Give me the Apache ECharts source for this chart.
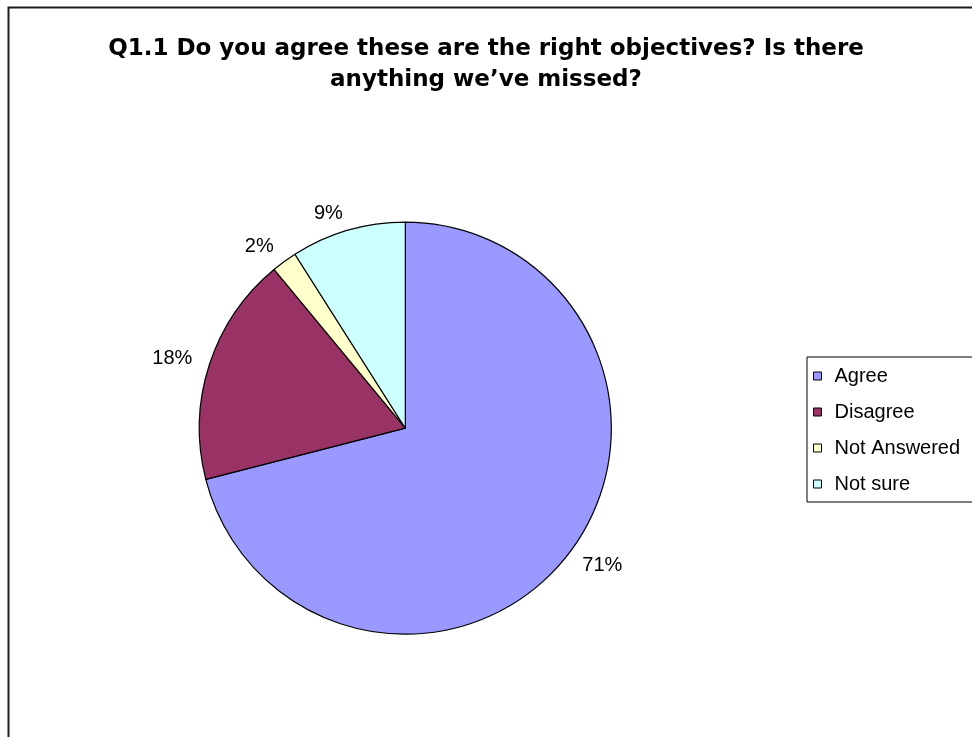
<!DOCTYPE html>
<html>
<head>
<meta charset="utf-8">
<title>Q1.1 Do you agree these are the right objectives?</title>
<script src="https://cdn.jsdelivr.net/npm/echarts@6/dist/echarts.min.js"></script>
<style>
  html, body { margin: 0; padding: 0; background: #ffffff; }
  #chart { width: 972px; height: 737px; }
</style>
</head>
<body>
<div id="chart"></div>
<script>
// Survey responses for question 1.1 (share of respondents, %)
const categories = ['Agree', 'Disagree', 'Not Answered', 'Not sure'];
const shares = [71, 18, 2, 9];
const sliceColors = ['#9999ff', '#993366', '#ffffcc', '#ccffff'];
const titleLines = [
  'Q1.1 Do you agree these are the right objectives? Is there',
  'anything we\u2019ve missed?'
];

const chart = echarts.init(document.getElementById('chart'), null, { renderer: 'canvas' });

const pieData = categories.map((name, i) => ({
  name: name,
  value: shares[i],
  itemStyle: { color: sliceColors[i] }
}));

chart.setOption({
  backgroundColor: '#ffffff',
  animation: false,
  title: {
    text: titleLines.join('\n'),
    left: 'center',
    top: 34,
    padding: [0, 0, 0, 16],
    textStyle: {
      fontFamily: 'DejaVu Sans',
      fontWeight: 'bold',
      fontSize: 23,
      lineHeight: 31,
      color: '#000000'
    }
  },
  legend: {
    orient: 'vertical',
    left: 807,
    top: 357,
    padding: [9, 40, 8, 6],
    borderColor: '#000000',
    borderWidth: 1,
    itemGap: 16,
    itemWidth: 8,
    itemHeight: 8,
    icon: 'rect',
    itemStyle: { borderColor: '#000000', borderWidth: 1 },
    textStyle: {
      fontFamily: 'Liberation Sans',
      fontSize: 20,
      lineHeight: 20,
      color: '#000000',
      padding: [0, 0, 0, 8]
    },
    data: categories
  },
  graphic: [{
    type: 'rect',
    silent: true,
    z: -1,
    shape: { x: 8.5, y: 7.5, width: 1000, height: 800 },
    style: { fill: 'none', stroke: '#1c1c1c', lineWidth: 2 }
  }],
  series: [{
    type: 'pie',
    center: ['41.7%', '58.1%'],
    radius: 206,
    startAngle: 90,
    clockwise: true,
    avoidLabelOverlap: false,
    itemStyle: { borderColor: '#000000', borderWidth: 1.2 },
    emphasis: { disabled: true },
    label: {
      show: true,
      position: 'outside',
      distanceToLabelLine: 0,
      fontFamily: 'Liberation Sans',
      fontSize: 20,
      color: '#000000',
      formatter: p => Math.round(p.percent) + '%'
    },
    labelLine: { show: false, length: 18, length2: 0 },
    data: pieData
  }]
});
</script>
</body>
</html>
